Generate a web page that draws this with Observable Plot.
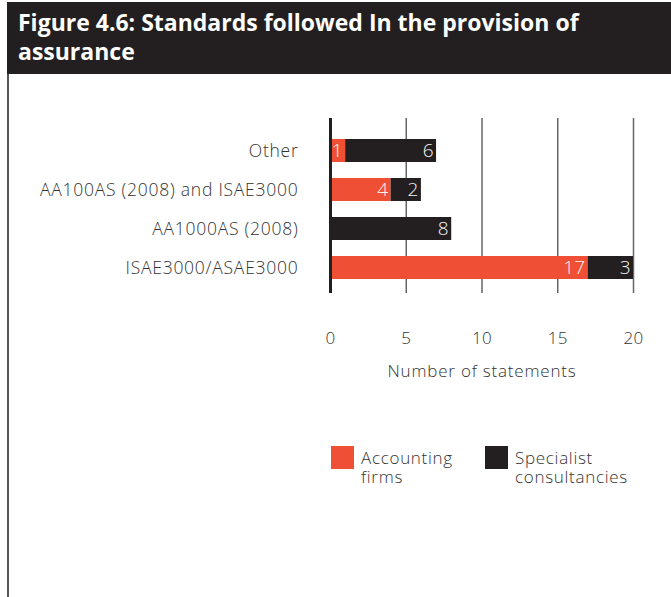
<!DOCTYPE html>
<html>
<head>
<meta charset="utf-8">
<script src="https://cdn.jsdelivr.net/npm/d3@7"></script>
<script src="https://cdn.jsdelivr.net/npm/@observablehq/plot@0.6"></script>
<style>
  html, body { margin: 0; padding: 0; background: #fff; }
  body { width: 671px; height: 597px; position: relative; overflow: hidden; font-family: "Open Sans", "Noto Sans", sans-serif; }
  #title { position: absolute; left: 7px; top: 2px; width: 664px; height: 72px; background: #231f20; color: #fff;
           font-weight: 700; font-size: 23px; line-height: 29px; box-sizing: border-box; padding: 6px 0 0 11px; }
  #border { position: absolute; left: 7px; top: 74px; width: 2px; height: 523px; background: #555; }
  #chart { position: absolute; left: 0; top: 100px; }
  #chart [aria-label^="y-axis"] { font-size: 17.5px; letter-spacing: 0.75px; }
  #chart [aria-label^="x-axis"] { font-size: 17px; letter-spacing: 0.3px; }
  #legend { position: absolute; top: 446px; left: 331px; }
  .item { position: absolute; top: 0; }
  .sw { position: absolute; top: 0; left: 0; width: 23px; height: 23px; }
  .line { position: absolute; left: 30px; height: 19px; font-size: 17px; line-height: 19px; letter-spacing: 0.7px; color: #333; font-weight: 300; white-space: nowrap; }
</style>
</head>
<body>
<div id="title">Figure 4.6: Standards followed In the provision of<br>assurance</div>
<div id="border"></div>
<div id="chart"></div>
<div id="legend"></div>
<script>
const categories = ["Other", "AA100AS (2008) and ISAE3000", "AA1000AS (2008)", "ISAE3000/ASAE3000"];
const series = ["Accounting firms", "Specialist consultancies"];
const legendLabels = [["Accounting", "firms"], ["Specialist", "consultancies"]];
const accounting = [1, 4, 0, 17];
const specialist = [6, 2, 8, 3];
const colors = ["#ef5035", "#231f20"];
const xTicks = [0, 5, 10, 15, 20];
const xTitle = "Number of statements";

const data = [];
series.forEach((s, si) => {
  const vals = si === 0 ? accounting : specialist;
  categories.forEach((c, ci) => data.push({category: c, series: s, value: vals[ci]}));
});

const font = "'Open Sans', 'Noto Sans', sans-serif";
const chart = Plot.plot({
  width: 671,
  height: 300,
  marginLeft: 330,
  marginRight: 38,
  marginTop: 18,
  marginBottom: 107,
  style: {fontFamily: font, fontSize: "16px", fontWeight: 300, color: "#333", background: "transparent"},
  x: {domain: [0, 20], ticks: xTicks, tickSize: 0, tickPadding: 38, label: null, line: false},
  y: {domain: categories, range: [38, 179], paddingInner: 0.42, paddingOuter: 0, tickSize: 0, tickPadding: 32, label: null},
  color: {domain: series, range: colors},
  marks: [
    Plot.ruleX(xTicks.slice(1), {stroke: "#666", strokeWidth: 1.5}),
    Plot.barX(data, Plot.stackX({x: "value", y: "category", fill: "series", z: "series"})),
    Plot.text(data, Plot.stackX2({x: "value", y: "category", z: "series", text: d => d.value > 0 ? String(d.value) : "",
      textAnchor: "end", dx: -3, fill: "#f2f2f2", fontSize: 19, fontWeight: 300})),
    Plot.ruleX([0], {stroke: "#231f20", strokeWidth: 3}),
    Plot.text([xTitle], {frameAnchor: "bottom", dy: 83, fill: "#333", fontSize: 17, fontWeight: 300})
  ]
});
document.getElementById("chart").appendChild(chart);
chart.querySelectorAll("text").forEach(t => { if (t.textContent === xTitle) t.style.letterSpacing = "0.8px"; });

const legend = document.getElementById("legend");
const offsets = [0, 154];
series.forEach((s, i) => {
  const item = document.createElement("div");
  item.className = "item";
  item.style.left = offsets[i] + "px";
  const sw = document.createElement("div");
  sw.className = "sw";
  sw.style.background = colors[i];
  item.appendChild(sw);
  legendLabels[i].forEach((txt, j) => {
    const line = document.createElement("div");
    line.className = "line";
    line.style.top = (2 + j * 19) + "px";
    line.textContent = txt;
    item.appendChild(line);
  });
  legend.appendChild(item);
});
</script>
</body>
</html>
